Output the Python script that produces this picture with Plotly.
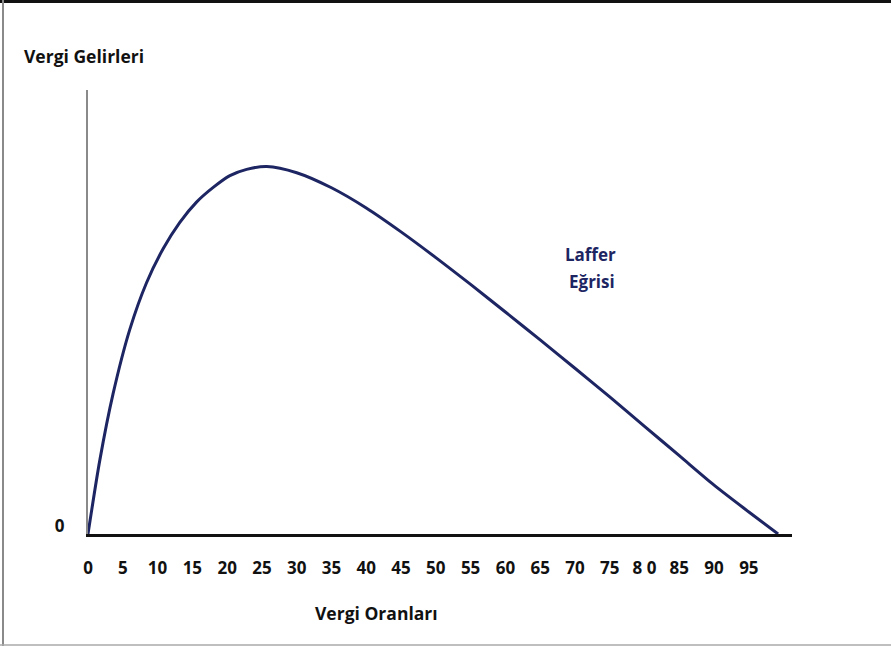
import plotly.graph_objects as go

# ---- data ----
tax_rate = [0, 1.7, 3.6, 6.0, 8.4, 10.8, 13.2, 15.6, 18.0, 20.4, 22.8, 25.7,
            30, 35, 40, 45, 50, 55, 60, 65, 70, 75, 80, 85, 90, 95, 99.2]
tax_revenue = [0, 20.1, 38.1, 55.6, 68.3, 77.6, 84.8, 90.3, 94.3, 97.5, 99.2, 100.0,
               98.3, 94.2, 88.7, 82.2, 75.2, 67.9, 60.4, 52.8, 45.1, 37.3, 29.3, 21.3,
               13.3, 6.0, 0]
tick_values = [0, 5, 10, 15, 20, 25, 30, 35, 40, 45, 50, 55, 60, 65, 70, 75, 80, 85, 90, 95]
tick_labels = ["0", "5", "10", "15", "20", "25", "30", "35", "40", "45", "50", "55",
               "60", "65", "70", "75", "8 0", "85", "90", "95"]

W, H = 891, 646
L, R, T, B = 88, 99, 90, 112
PW, PH = W - L - R, H - T - B

def px(x):
    return (x - L) / PW

def py(y):
    return (H - B - y) / PH

NAVY = "#1d2562"
FONT = "Open Sans"
FS = 17

fig = go.Figure()
fig.add_trace(go.Scatter(
    x=tax_rate, y=tax_revenue, mode="lines",
    line=dict(color=NAVY, width=3, shape="spline", smoothing=0.8),
    hoverinfo="skip", showlegend=False,
))

fig.update_layout(
    width=W, height=H,
    margin=dict(l=L, r=R, t=T, b=B, autoexpand=False),
    paper_bgcolor="white", plot_bgcolor="white",
    showlegend=False,
    xaxis=dict(
        range=[0, 101.2], showgrid=False, zeroline=False,
        showline=True, linecolor="#111111", linewidth=2.5,
        tickmode="array", tickvals=tick_values, ticktext=tick_labels,
        ticks="", ticklabelstandoff=17,
        tickfont=dict(family=FONT, size=FS, color="#111111", weight="bold"),
        fixedrange=True,
    ),
    yaxis=dict(
        range=[0, 120.8], showgrid=False, zeroline=False,
        showline=True, linecolor="#8a8a8a", linewidth=2,
        tickmode="array", tickvals=[0], ticktext=["0"],
        ticks="", ticklabelstandoff=18, ticklabelshift=-8,
        tickfont=dict(family=FONT, size=FS, color="#111111", weight="bold"),
        fixedrange=True,
    ),
    annotations=[
        dict(text="<b>Vergi Gelirleri</b>", xref="paper", yref="paper",
             x=px(22), y=py(56), xanchor="left", yanchor="middle", showarrow=False,
             font=dict(family=FONT, size=17.5, color="#111111")),
        dict(text="<b>Vergi Oranları</b>", xref="paper", yref="paper",
             x=px(376), y=py(613), xanchor="center", yanchor="middle", showarrow=False,
             font=dict(family=FONT, size=17.5, color="#111111")),
        dict(text="<b>Laffer</b>", xref="paper", yref="paper",
             x=px(590), y=py(254), xanchor="center", yanchor="middle", showarrow=False,
             font=dict(family=FONT, size=FS, color=NAVY)),
        dict(text="<b>Eğrisi</b>", xref="paper", yref="paper",
             x=px(592), y=py(281), xanchor="center", yanchor="middle", showarrow=False,
             font=dict(family=FONT, size=FS, color=NAVY)),
    ],
    shapes=[
        dict(type="line", xref="paper", yref="paper", x0=px(0), x1=px(W), y0=py(1.5), y1=py(1.5),
             line=dict(color="#111111", width=3)),
        dict(type="line", xref="paper", yref="paper", x0=px(3), x1=px(3), y0=py(0), y1=py(H),
             line=dict(color="#8a8a8a", width=2)),
        dict(type="line", xref="paper", yref="paper", x0=px(0), x1=px(W), y0=py(645), y1=py(645),
             line=dict(color="#aaaaaa", width=1.5)),
    ],
)

fig.write_html("out.html", config={"displayModeBar": False},
               post_script="document.body.style.margin='0';")
